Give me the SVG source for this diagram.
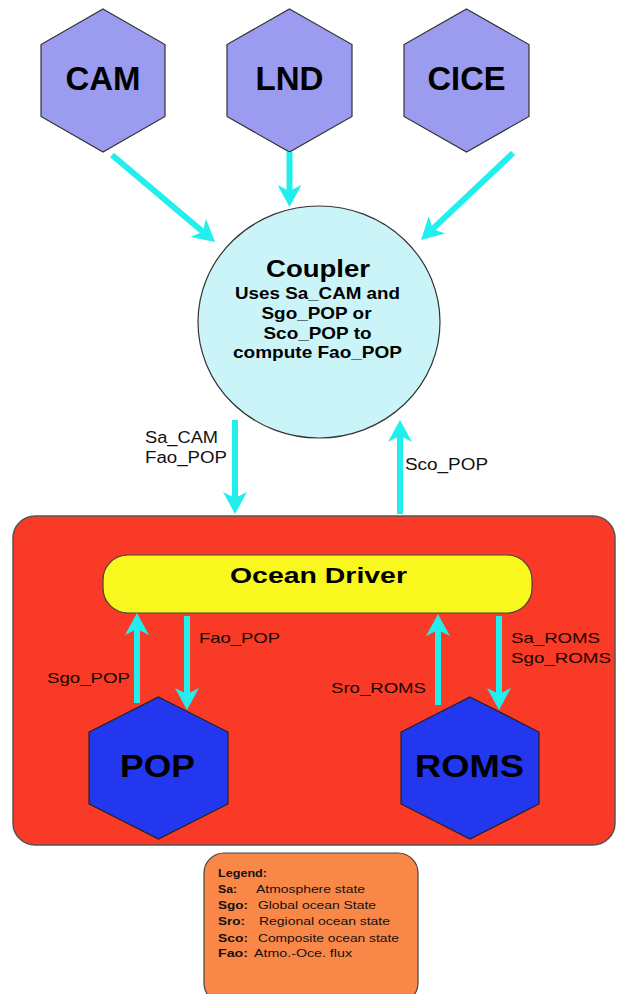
<svg xmlns="http://www.w3.org/2000/svg" width="619" height="994" viewBox="0 0 619 994">
<style>
.hex{fill:#9b9bf0;stroke:#333;stroke-width:1.2}
.bhex{fill:#2237ee;stroke:#222;stroke-width:1.2}
.big{font-family:"Liberation Sans",Arial,sans-serif;font-weight:bold;fill:#000;text-anchor:middle}
.lbl{font-family:"Liberation Sans",Arial,sans-serif;font-size:16px;fill:#111}
.lblr{font-family:"Liberation Sans",Arial,sans-serif;font-size:15px;fill:#1a0500}
.leg{font-family:"Liberation Sans",Arial,sans-serif;font-size:10.5px;fill:#111}
.legb{font-family:"Liberation Sans",Arial,sans-serif;font-size:10.5px;font-weight:bold;fill:#111}
.arr{stroke:#22eeee;stroke-width:6;fill:none;marker-end:url(#ah)}
</style>
<defs>
<marker id="ah" viewBox="-24 -14 26 28" refX="-14" refY="0" markerWidth="26" markerHeight="28" markerUnits="userSpaceOnUse" orient="auto">
<path d="M0,0 L-22,-12 L-16,0 L-22,12 Z" fill="#22eeee"/>
</marker>
</defs>
<rect width="619" height="994" fill="#fff"/>

<g id="ocean-box">
<rect x="13" y="516" width="602" height="329" rx="22" fill="#f93a26" stroke="#555" stroke-width="1.5"/>
</g>

<g id="cam">
<polygon class="hex" points="103,9 165,44.5 165,116.5 103,152 41,116.5 41,44.5"/>
<text class="big" x="103" y="90" font-size="33" textLength="75" lengthAdjust="spacingAndGlyphs">CAM</text>
</g>
<g id="lnd">
<polygon class="hex" points="289.5,9 352,44.5 352,116.5 289.5,152 227,116.5 227,44.5"/>
<text class="big" x="289.5" y="90" font-size="33" textLength="68" lengthAdjust="spacingAndGlyphs">LND</text>
</g>
<g id="cice">
<polygon class="hex" points="466.5,9 529,44.5 529,116.5 466.5,152 404,116.5 404,44.5"/>
<text class="big" x="466.5" y="90" font-size="33" textLength="78" lengthAdjust="spacingAndGlyphs">CICE</text>
</g>

<g id="coupler">
<ellipse cx="319" cy="322" rx="121" ry="116" fill="#cbf4f8" stroke="#333" stroke-width="1.2"/>
<text class="big" x="318" y="277" font-size="24" textLength="104" lengthAdjust="spacingAndGlyphs">Coupler</text>
<text class="big" x="317.5" y="299" font-size="17" textLength="165" lengthAdjust="spacingAndGlyphs">Uses Sa_CAM and</text>
<text class="big" x="316.5" y="318.5" font-size="17" textLength="110" lengthAdjust="spacingAndGlyphs">Sgo_POP or</text>
<text class="big" x="317.5" y="338.5" font-size="17" textLength="108" lengthAdjust="spacingAndGlyphs">Sco_POP to</text>
<text class="big" x="317.5" y="358" font-size="17" textLength="169" lengthAdjust="spacingAndGlyphs">compute Fao_POP</text>
</g>

<g id="ocean-driver">
<rect x="103" y="555" width="429" height="58" rx="25" fill="#f8f81e" stroke="#444" stroke-width="1.2"/>
<text class="big" x="318.5" y="583" font-size="22" textLength="177" lengthAdjust="spacingAndGlyphs">Ocean Driver</text>
</g>

<g id="pop">
<polygon class="bhex" points="158.5,697 228,732 228,804 158.5,839 89,804 89,732"/>
<text class="big" x="157.5" y="777" font-size="32" textLength="75" lengthAdjust="spacingAndGlyphs">POP</text>
</g>
<g id="roms">
<polygon class="bhex" points="470,697 539,732 539,804 470,839 401,804 401,732"/>
<text class="big" x="469.5" y="777" font-size="32" textLength="109" lengthAdjust="spacingAndGlyphs">ROMS</text>
</g>

<g id="connectors">
<line class="arr" x1="112" y1="155" x2="204.3" y2="233"/>
<line class="arr" x1="289.5" y1="152" x2="289.5" y2="193"/>
<line class="arr" x1="513" y1="153" x2="431.2" y2="230.4"/>
<line class="arr" x1="235" y1="420" x2="235" y2="500"/>
<line class="arr" x1="400" y1="514" x2="400" y2="434"/>
<line class="arr" x1="137" y1="703" x2="137" y2="627"/>
<line class="arr" x1="187" y1="616" x2="187" y2="696"/>
<line class="arr" x1="438" y1="705" x2="438" y2="628"/>
<line class="arr" x1="499" y1="616" x2="499" y2="696"/>
<text class="lbl" x="145" y="443" textLength="73" lengthAdjust="spacingAndGlyphs">Sa_CAM</text>
<text class="lbl" x="145" y="463" textLength="82" lengthAdjust="spacingAndGlyphs">Fao_POP</text>
<text class="lbl" x="405" y="470" textLength="83" lengthAdjust="spacingAndGlyphs">Sco_POP</text>
<text class="lblr" x="199" y="643" textLength="81" lengthAdjust="spacingAndGlyphs">Fao_POP</text>
<text class="lblr" x="47" y="683" textLength="83" lengthAdjust="spacingAndGlyphs">Sgo_POP</text>
<text class="lblr" x="511" y="643" textLength="89" lengthAdjust="spacingAndGlyphs">Sa_ROMS</text>
<text class="lblr" x="511" y="663" textLength="100" lengthAdjust="spacingAndGlyphs">Sgo_ROMS</text>
<text class="lblr" x="331" y="693" textLength="95" lengthAdjust="spacingAndGlyphs">Sro_ROMS</text>
</g>

<g id="legend">
<rect x="204" y="853" width="214" height="150" rx="20" fill="#f98848" stroke="#444" stroke-width="1.2"/>
<text class="legb" x="218" y="877" textLength="49" lengthAdjust="spacingAndGlyphs">Legend:</text>
<text class="legb" x="218" y="893" textLength="19" lengthAdjust="spacingAndGlyphs">Sa:</text>
<text class="leg" x="256" y="893" textLength="109" lengthAdjust="spacingAndGlyphs">Atmosphere state</text>
<text class="legb" x="218" y="909" textLength="30" lengthAdjust="spacingAndGlyphs">Sgo:</text>
<text class="leg" x="258" y="909" textLength="118" lengthAdjust="spacingAndGlyphs">Global ocean State</text>
<text class="legb" x="218" y="925" textLength="27" lengthAdjust="spacingAndGlyphs">Sro:</text>
<text class="leg" x="259" y="925" textLength="131" lengthAdjust="spacingAndGlyphs">Regional ocean state</text>
<text class="legb" x="218" y="942" textLength="30" lengthAdjust="spacingAndGlyphs">Sco:</text>
<text class="leg" x="258" y="942" textLength="141" lengthAdjust="spacingAndGlyphs">Composite ocean state</text>
<text class="legb" x="218" y="957" textLength="30" lengthAdjust="spacingAndGlyphs">Fao:</text>
<text class="leg" x="254" y="957" textLength="98" lengthAdjust="spacingAndGlyphs">Atmo.-Oce. flux</text>
</g>
</svg>
